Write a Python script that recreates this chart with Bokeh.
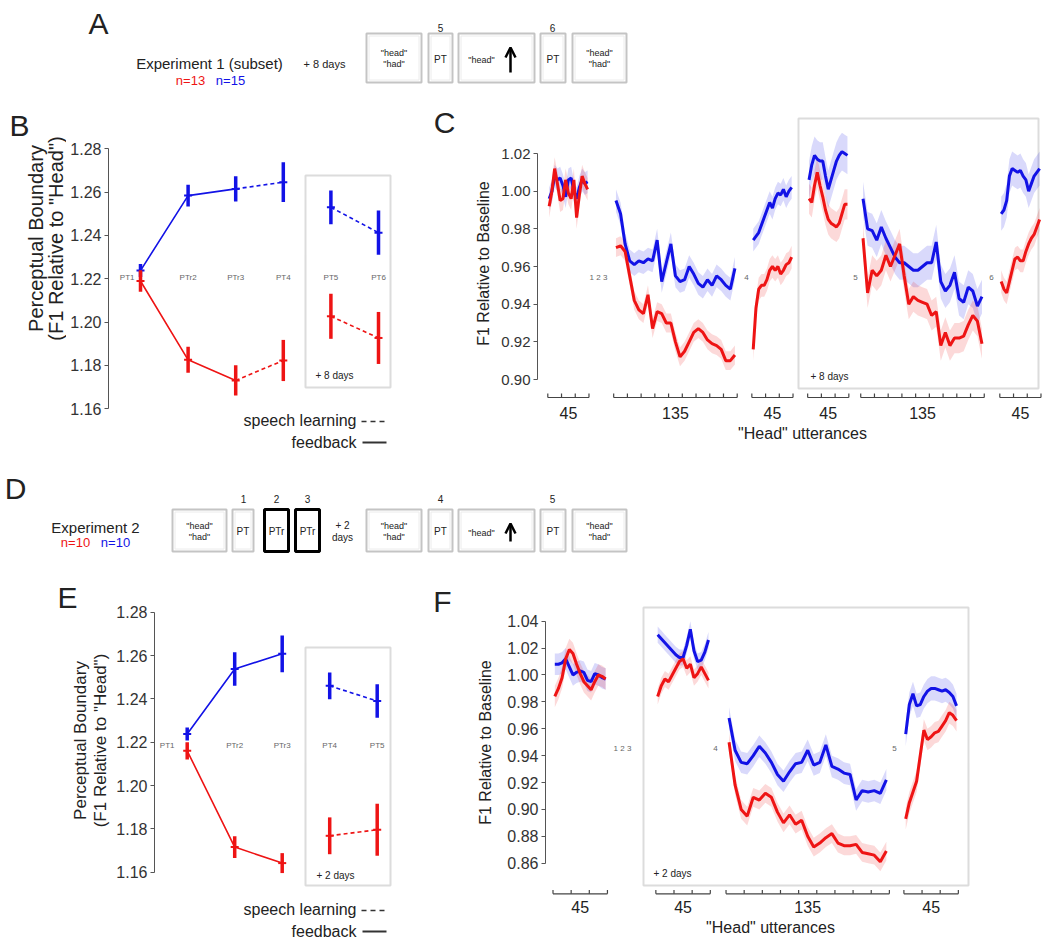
import math
from bokeh.plotting import figure
from bokeh.layouts import column, row
from bokeh.models import (Range1d, Label, LinearAxis, FixedTicker,
                          PrintfTickFormatter, Arrow, OpenHead)
from bokeh.embed import file_html
from bokeh.resources import INLINE

FONT = "Liberation Sans"
BLUE = "#1212e6"
RED = "#ee1414"
PAGE_W = 1048

# ---------------- data ----------------
# Panel B : Experiment 1 perceptual boundary (F1 relative to "Head")
B_TESTS = ["PT1", "PTr2", "PTr3", "PT4", "PT5", "PT6"]
B_BLUE_MEAN = [1.2238, 1.2584, 1.2615, 1.2646, 1.2530, 1.2413]
B_BLUE_ERR = [0.0030, 0.0050, 0.0058, 0.0092, 0.0078, 0.0102]
B_RED_MEAN = [1.2190, 1.1826, 1.1731, 1.1823, 1.2027, 1.1927]
B_RED_ERR = [0.0050, 0.0060, 0.0070, 0.0095, 0.0104, 0.0120]

# Panel E : Experiment 2 perceptual boundary
E_TESTS = ["PT1", "PTr2", "PTr3", "PT4", "PT5"]
E_BLUE_MEAN = [1.2238, 1.2538, 1.2608, 1.2460, 1.2390]
E_BLUE_ERR = [0.0030, 0.0077, 0.0085, 0.0062, 0.0077]
E_RED_MEAN = [1.2160, 1.1716, 1.1642, 1.1768, 1.1796]
E_RED_ERR = [0.0040, 0.0050, 0.0046, 0.0085, 0.0120]

# Panel C : F1 relative to baseline, Experiment 1 (blocks of utterances)
C_BLOCKS = [45, 135, 45, 45, 135, 45]
C_BLUE = [
    [0.996, 1.000, 1.008, 1.006, 1.007, 1.003, 0.997, 1.006, 1.007, 1.000, 0.996, 1.002, 1.006, 1.004, 1.005],
    [0.995, 0.988, 0.972, 0.963, 0.961, 0.963, 0.962, 0.964, 0.963, 0.974, 0.952, 0.962, 0.972, 0.955,
     0.952, 0.953, 0.960, 0.956, 0.951, 0.949, 0.953, 0.950, 0.955, 0.953, 0.950, 0.948, 0.959],
    [0.974, 0.976, 0.978, 0.982, 0.986, 0.990, 0.994, 0.991, 0.996, 0.999, 0.998, 1.001, 0.997, 1.000, 1.002],
    [1.006, 1.014, 1.019, 1.017, 1.016, 1.016, 1.008, 1.001, 1.006, 1.011, 1.016, 1.019, 1.021, 1.020, 1.019],
    [0.996, 0.980, 0.979, 0.974, 0.981, 0.975, 0.970, 0.965, 0.962, 0.962, 0.960, 0.958, 0.958, 0.960,
     0.962, 0.962, 0.973, 0.952, 0.947, 0.950, 0.957, 0.943, 0.941, 0.949, 0.947, 0.939, 0.944],
    [0.988, 0.990, 0.995, 1.008, 1.012, 1.011, 1.010, 1.011, 1.008, 1.006, 1.000, 1.004, 1.008, 1.010, 1.012],
]
C_RED = [
    [0.992, 1.000, 1.012, 1.004, 0.995, 0.996, 1.006, 0.999, 0.996, 1.006, 0.986, 0.998, 1.008, 1.004, 1.001],
    [0.970, 0.971, 0.968, 0.955, 0.942, 0.937, 0.935, 0.945, 0.927, 0.936, 0.935, 0.930, 0.930, 0.920,
     0.912, 0.915, 0.920, 0.925, 0.927, 0.925, 0.921, 0.919, 0.918, 0.916, 0.910, 0.910, 0.913],
    [0.916, 0.938, 0.948, 0.950, 0.950, 0.953, 0.958, 0.960, 0.958, 0.960, 0.956, 0.958, 0.961, 0.962, 0.965],
    [0.996, 0.994, 1.003, 1.010, 1.003, 0.997, 0.990, 0.985, 0.983, 0.982, 0.981, 0.983, 0.988, 0.993, 0.993],
    [0.975, 0.946, 0.958, 0.955, 0.958, 0.966, 0.960, 0.966, 0.972, 0.955, 0.940, 0.944, 0.942, 0.941,
     0.940, 0.934, 0.936, 0.918, 0.925, 0.918, 0.922, 0.922, 0.923, 0.929, 0.934, 0.931, 0.919],
    [0.952, 0.948, 0.946, 0.952, 0.958, 0.964, 0.965, 0.963, 0.963, 0.968, 0.972, 0.975, 0.977, 0.981, 0.985],
]
C_BLUE_SEM = [0.006, 0.006, 0.006, 0.010, 0.009, 0.009]
C_RED_SEM = [0.006, 0.005, 0.006, 0.008, 0.008, 0.006]

# Panel F : F1 relative to baseline, Experiment 2
F_BLOCKS = [45, 45, 135, 45]
F_BLUE = [
    [1.008, 1.008, 1.009, 1.012, 1.006, 1.000, 1.002, 1.003, 1.002, 0.996, 0.995, 1.001, 1.000, 0.998, 0.997],
    [1.030, 1.027, 1.024, 1.021, 1.018, 1.015, 1.013, 1.013, 1.022, 1.034, 1.018, 1.010, 1.011, 1.017, 1.026],
    [0.968, 0.944, 0.935, 0.934, 0.940, 0.947, 0.942, 0.935, 0.926, 0.921, 0.928, 0.934, 0.935, 0.944,
     0.933, 0.935, 0.948, 0.932, 0.930, 0.927, 0.926, 0.907, 0.914, 0.913, 0.914, 0.912, 0.922],
    [0.956, 0.978, 0.986, 0.977, 0.978, 0.984, 0.988, 0.990, 0.990, 0.989, 0.988, 0.989, 0.987, 0.984, 0.977],
]
F_RED = [
    [0.984, 0.990, 0.998, 1.012, 1.019, 1.016, 1.008, 1.001, 0.995, 0.992, 0.989, 0.995, 1.000, 0.999, 0.997],
    [0.984, 0.992, 0.997, 0.995, 1.000, 1.005, 1.010, 1.012, 1.005, 1.008, 0.998, 1.001, 1.006, 1.001, 0.996],
    [0.950, 0.918, 0.900, 0.895, 0.909, 0.907, 0.912, 0.909, 0.898, 0.890, 0.896, 0.889, 0.892, 0.880,
     0.872, 0.875, 0.879, 0.882, 0.875, 0.873, 0.873, 0.874, 0.868, 0.867, 0.866, 0.861, 0.869],
    [0.893, 0.905, 0.913, 0.921, 0.940, 0.959, 0.952, 0.954, 0.957, 0.958, 0.962, 0.966, 0.972, 0.970, 0.966],
]
F_BLUE_SEM = [0.008, 0.006, 0.008, 0.009]
F_RED_SEM = [0.008, 0.006, 0.007, 0.008]

# layout of the utterance blocks along the x axis (utterance units, gaps included)
C_BLOCK_START = [0, 72, 223, 284, 342, 494]
F_BLOCK_START = [0, 85, 143, 290]


# ---------------- helpers ----------------
def lin(p0, v0, p1, v1):
    k = (v1 - v0) / (p1 - p0)
    return lambda p: v0 + (p - p0) * k


def blank(p):
    p.outline_line_color = None
    p.background_fill_color = "white"
    p.border_fill_color = "white"
    return p


def base_fig(px0, px1, py0, py1, fx, fy, frame_left):
    p = figure(width=px1 - px0, height=py1 - py0,
               x_range=Range1d(fx(frame_left), fx(px1)),
               y_range=Range1d(fy(py1), fy(py0)),
               x_axis_type=None, y_axis_type=None,
               toolbar_location=None, output_backend="svg",
               min_border_left=frame_left - px0, min_border_right=0,
               min_border_top=0, min_border_bottom=0)
    return blank(p)


def pixel_fig(px0, px1, py0, py1):
    # a plain drawing strip whose data units are reference pixels (y downwards)
    p = figure(width=px1 - px0, height=py1 - py0, x_range=Range1d(px0, px1),
               y_range=Range1d(py1, py0), x_axis_type=None, y_axis_type=None,
               toolbar_location=None, output_backend="svg",
               min_border_left=0, min_border_right=0, min_border_top=0, min_border_bottom=0)
    return blank(p)


def lab(p, x, y, text, size, color="#222222", align="center", baseline="middle",
        angle=0.0, style="normal"):
    p.add_layout(Label(x=x, y=y, text=text, text_font=FONT, text_font_size=f"{size}px",
                       text_color=color, text_align=align, text_baseline=baseline,
                       angle=angle, text_font_style=style))


def add_yaxis(p, ticks, size=15):
    ax = LinearAxis(ticker=FixedTicker(ticks=ticks), bounds=(ticks[0], ticks[-1]),
                    formatter=PrintfTickFormatter(format="%.2f"),
                    major_label_text_font=FONT, major_label_text_font_size=f"{size}px",
                    major_label_text_color="#333333", axis_line_color="#555555",
                    major_tick_line_color="#555555", major_tick_in=0, major_tick_out=4,
                    minor_tick_line_color=None, major_label_standoff=3)
    p.add_layout(ax, "left")


def boundary_panel(p, fx, fy, tests, bm, be, rm, re_, solid, dashed, pt1_px, lab_py):
    idx = list(range(len(tests)))
    for mean, err, col in ((bm, be, BLUE), (rm, re_, RED)):
        p.line([idx[i] for i in solid], [mean[i] for i in solid], color=col, line_width=1.6)
        for a, b in dashed:
            p.line([idx[a], idx[b]], [mean[a], mean[b]], color=col, line_width=1.6,
                   line_dash="4 3")
        p.segment(x0=idx, x1=idx, y0=[m - e for m, e in zip(mean, err)],
                  y1=[m + e for m, e in zip(mean, err)], color=col, line_width=3.5)
        p.scatter(idx, mean, marker="dash", size=8, line_width=2, color=col)
    for i, t in enumerate(tests):
        x = fx(pt1_px) if i == 0 else i
        lab(p, x, fy(lab_py), t, 8, "#666666")


def series_panel(p, starts, blocks, blue, red, bsem, rsem):
    groups = ((blue, bsem, BLUE), (red, rsem, RED))
    for vals_all, sem, col in groups:
        for s0, L, vals, e in zip(starts, blocks, vals_all, sem):
            n = len(vals)
            xs = [s0 + (k + 0.5) * L / n for k in range(n)]
            p.varea(x=xs, y1=[v - e for v in vals], y2=[v + e for v in vals],
                    fill_color=col, fill_alpha=0.16)
    for vals_all, sem, col in groups:
        for s0, L, vals in zip(starts, blocks, vals_all):
            n = len(vals)
            xs = [s0 + (k + 0.5) * L / n for k in range(n)]
            p.line(xs, vals, color=col, line_width=3)


def block_axis(p, starts, blocks, yb, yt, ylab):
    for s0, L in zip(starts, blocks):
        xt = [s0 + 15 * i for i in range(L // 15 + 1)]
        p.segment(x0=[s0], x1=[s0 + L], y0=[yb], y1=[yb], color="#444444", line_width=1.2)
        p.segment(x0=xt, x1=xt, y0=[yb] * len(xt), y1=[yt] * len(xt), color="#444444",
                  line_width=1.2)
        lab(p, s0 + L / 2, ylab, str(L), 16)


def frame_box(p, fx, fy, l, r, t, b):
    p.quad(left=[fx(l)], right=[fx(r)], top=[fy(t)], bottom=[fy(b)], fill_color=None,
           line_color="#dcdcdc", line_width=2)


def legend(p, fx, fy, y1, y2):
    lab(p, fx(356), fy(y1), "speech learning", 16, align="right")
    p.line([fx(361), fx(388)], [fy(y1 + 1), fy(y1 + 1)], color="#333333", line_width=1.5,
           line_dash="5 4")
    lab(p, fx(356), fy(y2), "feedback", 16, align="right")
    p.line([fx(362), fx(386)], [fy(y2), fy(y2)], color="#333333", line_width=2)


# ---------------- schematic rows (A and D) ----------------
def draw_boxes(p, boxes, top, bot, numbers, num_y):
    mid = (top + bot) / 2
    for kind, l, r in boxes:
        if kind == "PTr":
            p.quad(left=[l], right=[r], top=[top], bottom=[bot], fill_color=None,
                   line_color="black", line_width=3)
        else:
            p.quad(left=[l], right=[r], top=[top], bottom=[bot], fill_color=None,
                   line_color="#c4c4c4", line_width=2)
            p.quad(left=[l + 2.5], right=[r - 2.5], top=[top + 2.5], bottom=[bot - 2.5],
                   fill_color=None, line_color="#ececec", line_width=1)
        c = (l + r) / 2
        if kind == "hh":
            lab(p, c, mid - 5, '"head"', 9)
            lab(p, c, mid + 6, '"had"', 9)
        elif kind in ("PT", "PTr"):
            lab(p, c, mid + 1, kind, 10)
        elif kind == "arrow":
            lab(p, l + 23, mid + 2, '"head"', 9)
            p.add_layout(Arrow(end=OpenHead(size=10, line_width=2.5, line_color="black"),
                               x_start=r - 24, y_start=bot - 10, x_end=r - 24,
                               y_end=top + 14, line_width=2.5, line_color="black"))
    for txt, x in numbers:
        lab(p, x, num_y, txt, 10)


pA = pixel_fig(0, PAGE_W, 0, 100)
lab(pA, 98, 23, "A", 30)
lab(pA, 209, 63, "Experiment 1 (subset)", 15)
lab(pA, 190, 80, "n=13", 13, RED)
lab(pA, 230, 80, "n=15", 13, BLUE)
lab(pA, 324, 63, "+ 8 days", 11)
draw_boxes(pA, [("hh", 366, 421), ("PT", 428, 452), ("arrow", 458, 534), ("PT", 540, 565),
                ("hh", 572, 626)], 33, 82, [("5", 440), ("6", 552)], 27)

pD = pixel_fig(0, PAGE_W, 462, 578)
lab(pD, 15, 488, "D", 30)
lab(pD, 95, 527, "Experiment 2", 15)
lab(pD, 75, 542, "n=10", 13, RED)
lab(pD, 115, 542, "n=10", 13, BLUE)
lab(pD, 342, 525, "+ 2", 10)
lab(pD, 342, 537, "days", 10)
draw_boxes(pD, [("hh", 172, 226), ("PT", 232, 253), ("PTr", 264, 288), ("PTr", 295, 319),
                ("hh", 366, 421), ("PT", 428, 452), ("arrow", 458, 534), ("PT", 540, 565),
                ("hh", 572, 626)], 509, 551,
           [("1", 243), ("2", 276), ("3", 307), ("4", 440), ("5", 552)], 498)

# ---------------- panel B ----------------
sB = pixel_fig(0, 66, 100, 462)
lab(sB, 19, 125, "B", 30)
lab(sB, 35, 238, "Perceptual Boundary", 20, angle=math.pi / 2)
lab(sB, 55, 238, '(F1 Relative to "Head")', 20, angle=math.pi / 2)

fxB = lin(140, 0, 187.6, 1)
fyB = lin(148.3, 1.28, 408.3, 1.16)
pB = base_fig(66, 420, 100, 462, fxB, fyB, 108)
add_yaxis(pB, [1.16, 1.18, 1.20, 1.22, 1.24, 1.26, 1.28], 16)
frame_box(pB, fxB, fyB, 305, 390, 175, 387)
boundary_panel(pB, fxB, fyB, B_TESTS, B_BLUE_MEAN, B_BLUE_ERR, B_RED_MEAN, B_RED_ERR,
               [0, 1, 2], [(2, 3), (4, 5)], 126.7, 277)
lab(pB, fxB(315), fyB(375), "+ 8 days", 10, align="left")
legend(pB, fxB, fyB, 420, 442)

# ---------------- panel C ----------------
sC = pixel_fig(420, 495, 100, 462)
lab(sC, 444, 122, "C", 30)
lab(sC, 483, 263, "F1 Relative to Baseline", 16, angle=math.pi / 2)

fxC = lin(547.3, 0, 548.215, 1)
fyC = lin(153, 1.02, 379, 0.90)
pC = base_fig(495, PAGE_W, 100, 462, fxC, fyC, 537)
add_yaxis(pC, [0.90, 0.92, 0.94, 0.96, 0.98, 1.00, 1.02], 15)
frame_box(pC, fxC, fyC, 798, 1038, 118, 388)
series_panel(pC, C_BLOCK_START, C_BLOCKS, C_BLUE, C_RED, C_BLUE_SEM, C_RED_SEM)
block_axis(pC, C_BLOCK_START, C_BLOCKS, fyC(397), fyC(393), fyC(412))
lab(pC, fxC(802), fyC(433), '"Head" utterances', 16)
lab(pC, fxC(810), fyC(376), "+ 8 days", 10, align="left")
for t, px in (("1 2 3", 598), ("4", 746), ("5", 855), ("6", 991)):
    lab(pC, fxC(px), fyC(277), t, 8, "#666666")

# ---------------- panel E ----------------
sE = pixel_fig(0, 112, 578, 942)
lab(sE, 67, 597, "E", 30)
lab(sE, 80, 740, "Perceptual Boundary", 17, angle=math.pi / 2)
lab(sE, 100, 740, '(F1 Relative to "Head")', 17, angle=math.pi / 2)

fxE = lin(186.7, 0, 234.2, 1)
fyE = lin(611.7, 1.28, 871.7, 1.16)
pE = base_fig(112, 420, 578, 942, fxE, fyE, 154)
add_yaxis(pE, [1.16, 1.18, 1.20, 1.22, 1.24, 1.26, 1.28], 16)
frame_box(pE, fxE, fyE, 305, 390, 647, 885)
boundary_panel(pE, fxE, fyE, E_TESTS, E_BLUE_MEAN, E_BLUE_ERR, E_RED_MEAN, E_RED_ERR,
               [0, 1, 2], [(3, 4)], 166.7, 745)
lab(pE, fxE(316), fyE(875), "+ 2 days", 10, align="left")
legend(pE, fxE, fyE, 909, 931)

# ---------------- panel F ----------------
sF = pixel_fig(420, 497, 578, 942)
lab(sF, 442, 601, "F", 30)
lab(sF, 485, 742, "F1 Relative to Baseline", 16, angle=math.pi / 2)

fxF = lin(552.5, 0, 553.71, 1)
fyF = lin(620.7, 1.04, 862.7, 0.86)
pF = base_fig(497, PAGE_W, 578, 942, fxF, fyF, 545)
add_yaxis(pF, [0.86, 0.88, 0.90, 0.92, 0.94, 0.96, 0.98, 1.00, 1.02, 1.04], 16)
frame_box(pF, fxF, fyF, 643, 968, 607, 885)
series_panel(pF, F_BLOCK_START, F_BLOCKS, F_BLUE, F_RED, F_BLUE_SEM, F_RED_SEM)
block_axis(pF, F_BLOCK_START, F_BLOCKS, fyF(893.3), fyF(889.5), fyF(906.7))
lab(pF, fxF(770), fyF(926.7), '"Head" utterances', 16)
lab(pF, fxF(653), fyF(873), "+ 2 days", 10, align="left")
for t, px in (("1 2 3", 622), ("4", 715), ("5", 894)):
    lab(pF, fxF(px), fyF(748), t, 8, "#666666")

layout = column(pA, row(sB, pB, sC, pC), pD, row(sE, pE, sF, pF))
open("out.html", "w").write(file_html(layout, INLINE))
